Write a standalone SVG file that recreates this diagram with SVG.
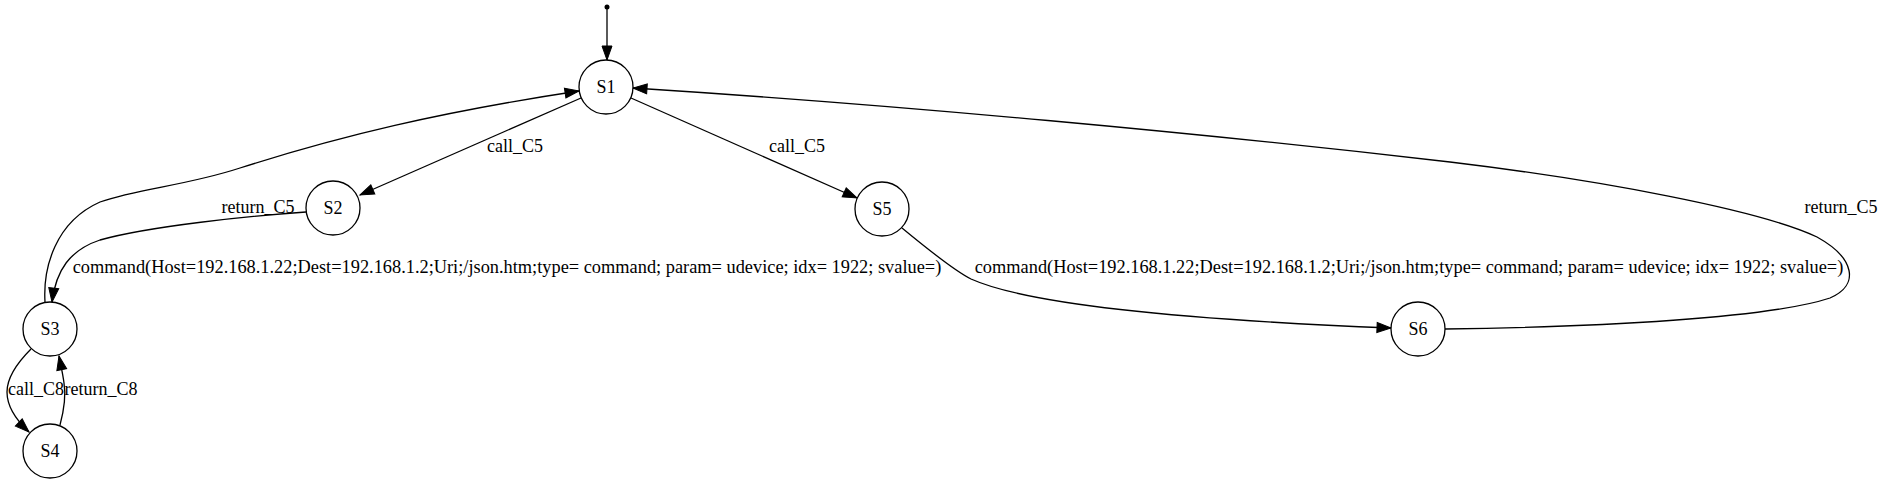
<svg xmlns="http://www.w3.org/2000/svg" width="1884" height="484" viewBox="0 0 1884 484">
<style>
.n{fill:#fff;stroke:#000;stroke-width:1.3}
.t{font-family:"Liberation Serif","Times New Roman",serif;font-size:18px;fill:#000;text-anchor:middle}
.c{font-size:18.35px}
.e{fill:none;stroke:#000;stroke-width:1.3;marker-end:url(#ah)}
</style>
<defs>
<marker id="ah" markerUnits="userSpaceOnUse" markerWidth="14" markerHeight="10" refX="14" refY="5" orient="auto" overflow="visible">
<path d="M0,0 L14,5 L0,10 z" fill="#000" stroke="#000" stroke-width="1"/>
</marker>
</defs>
<rect width="1884" height="484" fill="#fff"/>
<g id="connectors">
<path class="e" d="M607,9 L607,60"/>
<path class="e" d="M581,98 L360,195"/>
<path class="e" d="M631,98 L857,198"/>
<path class="e" d="M306,212 C250,216 150,226 100,240 C70,250 56,270 52,302"/>
<path class="e" d="M45,302 C43,268 55,222 100,202 C140,188 185,186 240,168 C340,136 440,112 579,91"/>
<path class="e" d="M902,228 C925,247 955,271 971,279 C1040,310 1240,322 1391,328"/>
<path class="e" d="M1445,329 C1600,327 1770,318 1830,298 C1860,285 1855,258 1817,237 C1760,210 1600,180 1450,162 C1200,133 900,105 633,88"/>
<path class="e" d="M31,349 C20,360 7,375 7,392 C7,405 14,418 29,432"/>
<path class="e" d="M60,425 C64,410 66,395 64,383 C63,375 61,366 59,356"/>
<text class="t" x="515" y="152">call_C5</text>
<text class="t" x="797" y="152">call_C5</text>
<text class="t" x="258" y="213">return_C5</text>
<text class="t" x="1841" y="213">return_C5</text>
<text class="t c" x="507" y="273">command(Host=192.168.1.22;Dest=192.168.1.2;Uri;/json.htm;type= command; param= udevice; idx= 1922; svalue=)</text>
<text class="t c" x="1409" y="273">command(Host=192.168.1.22;Dest=192.168.1.2;Uri;/json.htm;type= command; param= udevice; idx= 1922; svalue=)</text>
<text class="t" x="36" y="395">call_C8</text>
<text class="t" x="101" y="395">return_C8</text>
</g>
<g id="start"><circle cx="607" cy="7" r="2.5" fill="#000"/></g>
<g id="S1"><circle class="n" cx="606" cy="87" r="27"/><text class="t" x="606" y="93">S1</text></g>
<g id="S2"><circle class="n" cx="333" cy="208" r="27"/><text class="t" x="333" y="214">S2</text></g>
<g id="S5"><circle class="n" cx="882" cy="209" r="27"/><text class="t" x="882" y="215">S5</text></g>
<g id="S3"><circle class="n" cx="50" cy="329" r="27"/><text class="t" x="50" y="335">S3</text></g>
<g id="S6"><circle class="n" cx="1418" cy="329" r="27"/><text class="t" x="1418" y="335">S6</text></g>
<g id="S4"><circle class="n" cx="50" cy="451" r="27"/><text class="t" x="50" y="457">S4</text></g>
</svg>
